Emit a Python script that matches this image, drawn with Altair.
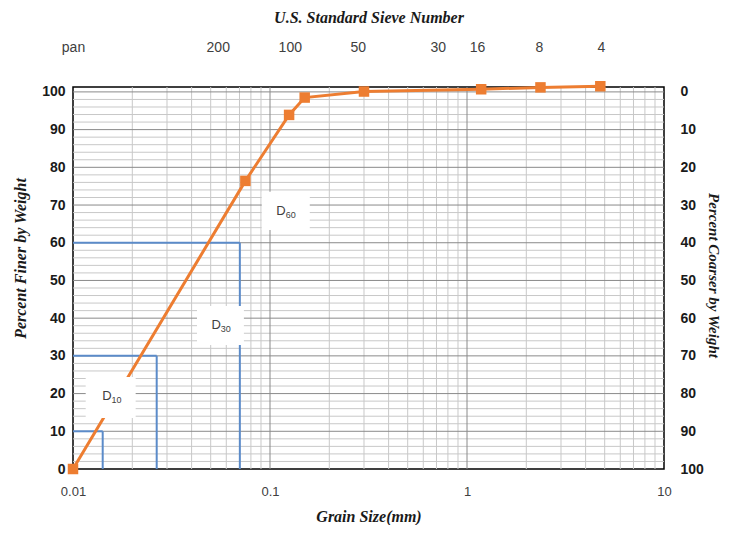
import altair as alt
import pandas as pd

# ---- data ----
sizes_mm = [0.01, 0.075, 0.125, 0.15, 0.3, 1.18, 2.36, 4.75]
pct_finer = [0, 76.4, 93.9, 98.5, 100.1, 100.7, 101.2, 101.5]

d_names = ["10", "30", "60"]
d_pct = [10, 30, 60]
d_size = [0.01415, 0.0266, 0.0703]

box_x1 = [0.0116, 0.0426, 0.0908]
box_x2 = [0.0208, 0.0737, 0.1592]
box_y1 = [13.5, 32.9, 63.4]
box_y2 = [24.4, 43.2, 73.5]
lab_x = [0.0157, 0.0563, 0.1202]
lab_y = [19.4, 38.2, 68.4]

sieve_labels = ["pan", "200", "100", "50", "30", "16", "8", "4"]
sieve_pos = [0.01, 0.0543, 0.126, 0.279, 0.711, 1.123, 2.319, 4.786]

x_ticks = [0.01, 0.1, 1, 10]
y_ticks = [0, 10, 20, 30, 40, 50, 60, 70, 80, 90, 100]
x_minor = [0.02, 0.03, 0.04, 0.05, 0.06, 0.07, 0.08, 0.09,
           0.2, 0.3, 0.4, 0.5, 0.6, 0.7, 0.8, 0.9,
           2, 3, 4, 5, 6, 7, 8, 9]
x_major = [0.1, 1]
y_minor = [2, 4, 6, 8, 12, 14, 16, 18, 22, 24, 26, 28, 32, 34, 36, 38,
           42, 44, 46, 48, 52, 54, 56, 58, 62, 64, 66, 68, 72, 74, 76, 78,
           82, 84, 86, 88, 92, 94, 96, 98]
y_major = [10, 20, 30, 40, 50, 60, 70, 80, 90, 100]

# ---- tables ----
curve = pd.DataFrame({"size": sizes_mm, "pct": pct_finer})
dlines = pd.DataFrame({"name": d_names, "pct": d_pct, "size": d_size,
                       "y0": [0] * 3, "x0": [0.01] * 3})
boxes = pd.DataFrame({"x1": box_x1, "x2": box_x2, "y1": box_y1, "y2": box_y2,
                      "lx": lab_x, "ly": lab_y, "name": d_names})
vminor = pd.DataFrame({"v": x_minor})
vmajor = pd.DataFrame({"v": x_major})
hminor = pd.DataFrame({"v": y_minor})
hmajor = pd.DataFrame({"v": y_major})

xs = alt.Scale(type="log", domain=[0.01, 10], nice=False)
ys = alt.Scale(domain=[0, 101.3], nice=False, zero=False)

# sieve label expression from lists
expr = "''"
for i in range(len(sieve_pos) - 1, -1, -1):
    if i == len(sieve_pos) - 1:
        expr = "'" + sieve_labels[i] + "'"
    else:
        thr = (sieve_pos[i] * sieve_pos[i + 1]) ** 0.5
        expr = "datum.value < %g ? '%s' : (%s)" % (thr, sieve_labels[i], expr)

TITLE_FONT = "Liberation Serif"
LABEL_FONT = "Liberation Sans"

top_axis = alt.Axis(orient="top", values=sieve_pos, labelExpr=expr,
                    title="U.S. Standard Sieve Number", domain=False, ticks=False,
                    tickSize=0, grid=False, labelPadding=33, labelFont=LABEL_FONT,
                    labelFontSize=14, labelColor="#404040", labelFlush=False,
                    labelOverlap=False, titleFont=TITLE_FONT, titleFontStyle="italic",
                    titleFontWeight="bold", titleFontSize=16, titleColor="#1a1a1a",
                    titleY=-70, titleBaseline="middle")
bottom_axis = alt.Axis(orient="bottom", values=x_ticks, format="~g",
                       title="Grain Size(mm)", domain=False, ticks=False, tickSize=0,
                       grid=False, labelPadding=16, labelFont=LABEL_FONT,
                       labelFontSize=13, labelColor="#404040", labelFlush=False,
                       labelOverlap=False, titleFont=TITLE_FONT, titleFontStyle="italic",
                       titleFontWeight="bold", titleFontSize=16, titleColor="#1a1a1a",
                       titleY=47, titleBaseline="middle")
left_axis = alt.Axis(orient="left", values=y_ticks, title="Percent Finer by Weight",
                     domain=False, ticks=False, tickSize=0, grid=False, labelPadding=8,
                     labelFont=LABEL_FONT, labelFontSize=14, labelFontWeight="bold",
                     labelColor="#1a1a1a", labelFlush=False, labelOverlap=False,
                     titleFont=TITLE_FONT, titleFontStyle="italic", titleFontWeight="bold",
                     titleFontSize=16, titleColor="#1a1a1a", titleAngle=270,
                     titleX=-53, titleY=171, titleBaseline="middle")
right_axis = alt.Axis(orient="right", values=y_ticks, labelExpr="'' + (100 - datum.value)",
                      title="Percent Coarser by Weight", domain=False, ticks=False,
                      tickSize=0, grid=False, labelPadding=16, labelFont=LABEL_FONT,
                      labelFontSize=14, labelFontWeight="bold", labelColor="#1a1a1a",
                      labelFlush=False, labelOverlap=False, titleFont=TITLE_FONT,
                      titleFontStyle="italic", titleFontWeight="bold", titleFontSize=15,
                      titleColor="#1a1a1a", titleAngle=90, titleX=49, titleY=188,
                      titleBaseline="middle")

MINOR = "#c8c8c8"
MAJOR = "#8a8a8a"
BLUE = "#5b8bc9"
ORANGE = "#ED7D31"

l_vminor = alt.Chart(vminor).mark_rule(color=MINOR, strokeWidth=1).encode(
    x=alt.X("v:Q", scale=xs, axis=top_axis))
l_hminor = alt.Chart(hminor).mark_rule(color=MINOR, strokeWidth=1).encode(
    y=alt.Y("v:Q", scale=ys, axis=right_axis))
l_vmajor = alt.Chart(vmajor).mark_rule(color=MAJOR, strokeWidth=1).encode(
    x=alt.X("v:Q", scale=xs, axis=None))
l_hmajor = alt.Chart(hmajor).mark_rule(color=MAJOR, strokeWidth=1).encode(
    y=alt.Y("v:Q", scale=ys, axis=None))

l_bvert = alt.Chart(dlines).mark_rule(color=BLUE, strokeWidth=2).encode(
    x=alt.X("size:Q", scale=xs, axis=None),
    y=alt.Y("y0:Q", scale=ys, axis=None), y2="pct:Q")
l_bhorz = alt.Chart(dlines).mark_rule(color=BLUE, strokeWidth=2).encode(
    x=alt.X("x0:Q", scale=xs, axis=None), x2="size:Q",
    y=alt.Y("pct:Q", scale=ys, axis=None))

l_line = alt.Chart(curve).mark_line(color=ORANGE, strokeWidth=3).encode(
    x=alt.X("size:Q", scale=xs, axis=bottom_axis),
    y=alt.Y("pct:Q", scale=ys, axis=left_axis))
l_pts = alt.Chart(curve).mark_point(shape="square", filled=True, size=110,
                                    color=ORANGE, opacity=1).encode(
    x=alt.X("size:Q", scale=xs, axis=None),
    y=alt.Y("pct:Q", scale=ys, axis=None))

l_box = alt.Chart(boxes).mark_rect(fill="white").encode(
    x=alt.X("x1:Q", scale=xs, axis=None), x2="x2:Q",
    y=alt.Y("y1:Q", scale=ys, axis=None), y2="y2:Q")
l_D = alt.Chart(boxes).mark_text(text="D", align="right", baseline="middle", dx=0,
                                 font=LABEL_FONT, fontSize=13, color="#404040").encode(
    x=alt.X("lx:Q", scale=xs, axis=None), y=alt.Y("ly:Q", scale=ys, axis=None))
l_sub = alt.Chart(boxes).mark_text(align="left", baseline="middle", dx=0, dy=4,
                                   font=LABEL_FONT, fontSize=9, color="#404040").encode(
    x=alt.X("lx:Q", scale=xs, axis=None), y=alt.Y("ly:Q", scale=ys, axis=None),
    text="name:N")

chart = alt.layer(
    l_vminor, l_hminor, l_vmajor, l_hmajor, l_bvert, l_bhorz, l_line, l_pts,
    l_box, l_D, l_sub
).resolve_axis(x="independent", y="independent").properties(
    width=591, height=382,
    autosize=alt.AutoSizeParams(type="none"),
    padding={"left": 65, "top": 79, "right": 57, "bottom": 56},
).configure_view(stroke="black", strokeWidth=1.5)

chart.save("out.html", embed_options={"renderer": "svg", "actions": False})
